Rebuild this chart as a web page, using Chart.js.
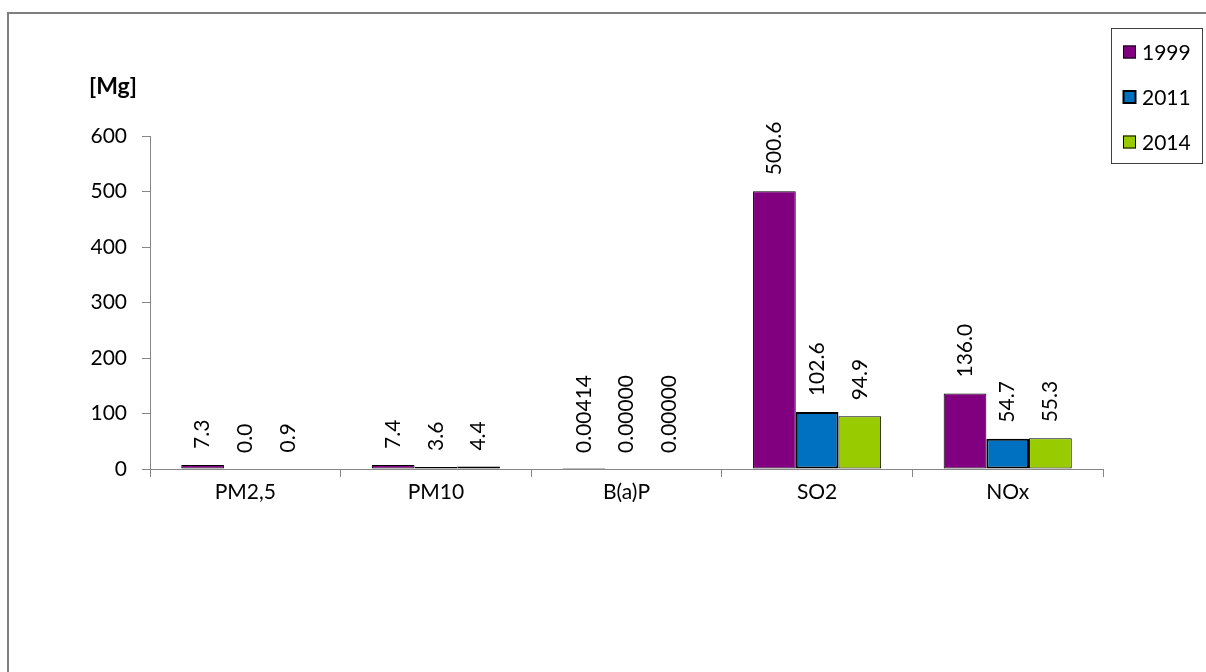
<!DOCTYPE html>
<html>
<head>
<meta charset="utf-8">
<script src="https://cdn.jsdelivr.net/npm/chart.js@4/dist/chart.umd.min.js"></script>
<style>
  html, body { margin: 0; padding: 0; background: #fff; }
  #wrap { width: 1206px; height: 672px; position: relative; }
</style>
</head>
<body>
<div id="wrap"><canvas id="c" width="1206" height="672"></canvas></div>
<script>
const categories = ['PM2,5', 'PM10', 'B(a)P', 'SO2', 'NOx'];
const seriesNames = ['1999', '2011', '2014'];
const values1999 = [7.3, 7.4, 0.00414, 500.6, 136.0];
const values2011 = [0.0, 3.6, 0.0, 102.6, 54.7];
const values2014 = [0.9, 4.4, 0.0, 94.9, 55.3];
const labelDecimals = [1, 1, 5, 1, 1];
const yMin = 0, yMax = 600, yStep = 100;
const yTitle = '[Mg]';

const colors = ['#800080', '#0070C0', '#99CC00'];
const borderWidths = [1, 2, 1];
const FONT = 'Lato, "Open Sans", sans-serif';
const FS = 21;

const seriesValues = [values1999, values2011, values2014];

const framePlugin = {
  id: 'frame',
  beforeDraw(chart) {
    const ctx = chart.ctx;
    ctx.save();
    ctx.fillStyle = '#fff';
    ctx.fillRect(0, 0, chart.width, chart.height);
    ctx.strokeStyle = '#7f7f7f';
    ctx.lineWidth = 2;
    ctx.beginPath();
    ctx.moveTo(8, chart.height + 2);
    ctx.lineTo(8, 13);
    ctx.lineTo(chart.width + 2, 13);
    ctx.stroke();
    ctx.restore();
  }
};

const labelPlugin = {
  id: 'valueLabels',
  afterDatasetsDraw(chart) {
    const ctx = chart.ctx;
    ctx.save();
    ctx.font = FS + 'px ' + FONT;
    ctx.fillStyle = '#000';
    ctx.textAlign = 'left';
    ctx.textBaseline = 'middle';
    chart.data.datasets.forEach((ds, i) => {
      const meta = chart.getDatasetMeta(i);
      meta.data.forEach((bar, j) => {
        const txt = Number(ds.data[j]).toFixed(labelDecimals[j]);
        ctx.save();
        ctx.translate(bar.x, bar.y - 16);
        ctx.rotate(-Math.PI / 2);
        ctx.fillText(txt, 0, 0);
        ctx.restore();
      });
    });
    // y axis title
    ctx.font = 'bold 23px ' + FONT;
    ctx.textAlign = 'left';
    ctx.fillText(yTitle, 89, chart.chartArea.top - 49);
    ctx.restore();
  }
};

const legendPlugin = {
  id: 'boxLegend',
  afterDraw(chart) {
    const ctx = chart.ctx;
    ctx.save();
    ctx.strokeStyle = '#404040';
    ctx.lineWidth = 1;
    ctx.strokeRect(1111.5, 28.5, 91, 135);
    ctx.font = FS + 'px ' + FONT;
    ctx.textAlign = 'left';
    ctx.textBaseline = 'middle';
    chart.data.datasets.forEach((ds, i) => {
      const cy = 52 + i * 45;
      ctx.fillStyle = ds.backgroundColor;
      ctx.fillRect(1123, cy - 6.5, 13, 13);
      ctx.strokeStyle = '#000';
      ctx.lineWidth = ds.borderWidth;
      ctx.strokeRect(1123.5, cy - 6, 12, 12);
      ctx.fillStyle = '#000';
      ctx.fillText(ds.label, 1142, cy + 1);
    });
    ctx.restore();
  }
};

new Chart(document.getElementById('c'), {
  type: 'bar',
  data: {
    labels: categories,
    datasets: seriesNames.map((name, i) => ({
      label: name,
      data: seriesValues[i],
      backgroundColor: colors[i],
      borderColor: '#000',
      borderWidth: borderWidths[i],
      borderSkipped: false,
      categoryPercentage: 0.672,
      barPercentage: 1.0
    }))
  },
  options: {
    responsive: false,
    animation: false,
    devicePixelRatio: 1,
    layout: { padding: { left: 0, right: 103, top: 136, bottom: 0 } },
    plugins: {
      legend: { display: false },
      tooltip: { enabled: false }
    },
    scales: {
      x: {
        grid: { offset: true, drawOnChartArea: false, drawTicks: true, tickLength: 8, color: '#868686' },
        border: { display: true, color: '#868686', width: 1 },
        ticks: { color: '#000', font: { family: FONT, size: FS }, padding: 3, maxRotation: 0 },
        afterFit(s) { s.height = 203; }
      },
      y: {
        min: yMin, max: yMax,
        grid: { drawOnChartArea: false, drawTicks: true, tickLength: 8, color: '#868686' },
        border: { display: true, color: '#868686', width: 1 },
        ticks: { stepSize: yStep, color: '#000', font: { family: FONT, size: FS }, padding: 15 },
        afterFit(s) { s.width = 150; }
      }
    }
  },
  plugins: [framePlugin, labelPlugin, legendPlugin]
});
</script>
</body>
</html>
